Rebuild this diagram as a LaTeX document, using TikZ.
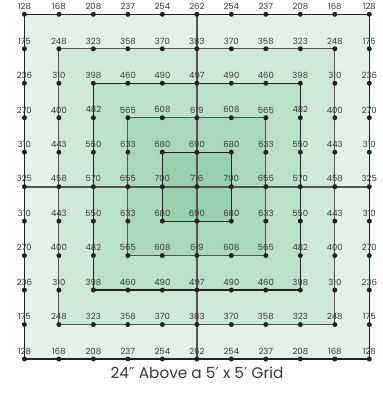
\documentclass[tikz,border=0pt]{standalone}
\usepackage{fontspec}
\setmainfont{Poppins}
\newfontfamily\primefont{DejaVu Sans}
\usetikzlibrary{calc}
\definecolor{g0}{HTML}{E3F2E8}
\definecolor{g1}{HTML}{CFE9D9}
\definecolor{g2}{HTML}{BBE1C8}
\definecolor{g3}{HTML}{A9D9B9}
\definecolor{g4}{HTML}{98D2AC}
\definecolor{linedark}{HTML}{222222}
\definecolor{linegray}{HTML}{555555}
\definecolor{txt}{HTML}{383838}
\begin{document}
\begin{tikzpicture}[x=1pt,y=-1pt,
  dot/.style={circle,fill=linedark,inner sep=0pt,minimum size=5pt},
  lbl/.style={font=\fontsize{8.5}{9}\selectfont,text=txt,inner sep=0pt},
  sqdark/.style={draw=linedark,line width=1.2pt},
  sqgray/.style={draw=linegray,line width=1.2pt},
  crossline/.style={draw=linegray,line width=1.9pt},
  captext/.style={font=\fontsize{15.3}{16}\selectfont,text=txt,inner sep=0pt}]
\useasboundingbox (0,0) rectangle (383,394);
\foreach \i in {0,...,10}{
  \foreach \j in {0,...,10}{
    \coordinate (c-\i-\j) at ({24.4+34.49*\j},{14.3+34.47*\i});
  }
}
% fills
\foreach \k/\col in {0/g0,1/g1,2/g2,3/g3,4/g4}{
  \pgfmathtruncatemacro\m{10-\k}
  \fill[\col] (c-\k-\k) rectangle (c-\m-\m);
}
% square outlines
\foreach \k/\sty in {0/sqdark,1/sqgray,2/sqdark,3/sqgray,4/sqdark}{
  \pgfmathtruncatemacro\m{10-\k}
  \draw[\sty] (c-\k-\k) rectangle (c-\m-\m);
}
% centre cross
\draw[crossline] (c-5-0) -- (c-5-10);
\draw[crossline] (c-0-5) -- (c-10-5);
% dots
\foreach \i in {0,...,10}{
  \foreach \j in {0,...,10}{
    \node[dot] (p-\i-\j) at (c-\i-\j) {};
  }
}
% labels
\foreach \r/\vals in {
  0/{128,168,208,237,254,262,254,237,208,168,128},
  1/{175,248,323,358,370,383,370,358,323,248,175},
  2/{236,310,398,460,490,497,490,460,398,310,236},
  3/{270,400,482,565,608,619,608,565,482,400,270},
  4/{310,443,550,633,680,690,680,633,550,443,310},
  5/{325,458,570,655,700,716,700,655,570,458,325},
  6/{310,443,550,633,680,690,680,633,550,443,310},
  7/{270,400,482,565,608,619,608,565,482,400,270},
  8/{236,310,398,460,490,497,490,460,398,310,236},
  9/{175,248,323,358,370,383,370,358,323,248,175},
  10/{128,168,208,237,254,262,254,237,208,168,128}}{
  \foreach \v [count=\c from 0] in \vals {
    \node[lbl] (l-\r-\c) at ($(p-\r-\c)+(0,-7.8)$) {\v};
  }
}
\node[captext] (title) at (197,373) {24{\primefont ″} Above a 5{\primefont ′} x 5{\primefont ′} Grid};
\end{tikzpicture}
\end{document}
